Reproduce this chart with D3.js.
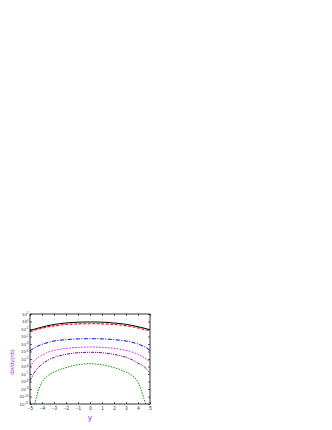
<!DOCTYPE html>
<html><head><meta charset="utf-8">
<script src="https://cdn.jsdelivr.net/npm/d3@7"></script>
<style>body{margin:0;background:#fff}svg{display:block}</style>
</head><body>
<script>
const rapidity = [-5,-4.5,-4,-3.5,-3,-2.5,-2,-1.5,-1,-0.5,0,0.5,1,1.5,2,2.5,3,3.5,4,4.5,5];
const blackSolid = [0.063,0.11,0.18,0.28,0.40,0.52,0.63,0.74,0.81,0.85,0.87,0.85,0.81,0.74,0.63,0.53,0.42,0.30,0.20,0.13,0.08];
const redDashed  = [0.045,0.079,0.126,0.20,0.26,0.33,0.40,0.45,0.48,0.50,0.50,0.50,0.48,0.45,0.40,0.34,0.27,0.21,0.14,0.09,0.056];
const blueDashDot = [1.26e-4,4.0e-4,8.9e-4,1.6e-3,2.5e-3,3.2e-3,3.8e-3,4.4e-3,4.8e-3,5.0e-3,5.0e-3,5.0e-3,4.8e-3,4.4e-3,3.8e-3,3.2e-3,2.5e-3,1.7e-3,1.0e-3,4.5e-4,1.5e-4];
const magentaDot = [1.0e-6,1.0e-5,3.2e-5,7.9e-5,1.4e-4,2.0e-4,2.6e-4,3.2e-4,3.5e-4,3.8e-4,4.0e-4,3.8e-4,3.5e-4,3.2e-4,2.6e-4,2.0e-4,1.4e-4,8.5e-5,4.0e-5,1.6e-5,4.0e-6];
const purpleDashDotDot = [1.26e-8,3.2e-7,2.0e-6,7.1e-6,1.6e-5,2.8e-5,4.2e-5,5.6e-5,6.8e-5,7.6e-5,7.9e-5,7.6e-5,6.8e-5,5.6e-5,4.2e-5,2.8e-5,1.7e-5,8.0e-6,2.8e-6,1.0e-6,1.26e-7];
const greenY = [-4.6,-4.5,-4,-3.5,-3,-2.5,-2,-1.5,-1,-0.5,0,0.5,1,1.5,2,2.5,3,3.5,4,4.5,4.65];
const greenDotted = [1e-11,5e-11,7.9e-9,6.3e-8,1.8e-7,4.0e-7,7.1e-7,1.2e-6,1.7e-6,2.1e-6,2.4e-6,2.1e-6,1.7e-6,1.2e-6,7.1e-7,4.0e-7,1.8e-7,6.3e-8,7.9e-9,5e-11,1e-11];
const xTicks = [-5,-4,-3,-2,-1,0,1,2,3,4,5];
const yTickExps = [1,0,-1,-2,-3,-4,-5,-6,-7,-8,-9,-10,-11];

const FONT="Liberation Sans, Arial, sans-serif";
const W=332,H=430;
const svg=d3.select("body").append("svg").attr("width",W).attr("height",H);
const L=30,R=150,T=314,B=404;
const x=d3.scaleLinear().domain([-5,5]).range([L,R]);
const y=d3.scaleLog().domain([1e-11,10]).range([B,T]);

const g=svg.append("g");
svg.append("clipPath").attr("id","c").append("rect").attr("x",L).attr("y",T).attr("width",R-L).attr("height",B-T);

const series=[
 {xs:rapidity,v:blackSolid,c:"#000000",d:null,w:1},
 {xs:rapidity,v:redDashed,c:"#ff0000",d:"3,1.5",w:1.1},
 {xs:rapidity,v:blueDashDot,c:"#0000ff",d:"4,1.5,1,1.5",w:1},
 {xs:rapidity,v:magentaDot,c:"#ff00ff",d:"1.5,1.5",w:1},
 {xs:rapidity,v:purpleDashDotDot,c:"#800080",d:"3,1,1,1,1,1",w:1},
 {xs:greenY,v:greenDotted,c:"#009900",d:"1.5,1.2",w:1}
];
const line=d3.line().x(d=>x(d[0])).y(d=>y(d[1])).curve(d3.curveMonotoneX);
const cg=g.append("g").attr("clip-path","url(#c)");
series.forEach(s=>{
  cg.append("path").attr("d",line(s.xs.map((xx,i)=>[xx,s.v[i]])))
   .attr("fill","none").attr("stroke",s.c).attr("stroke-width",s.w)
   .attr("stroke-dasharray",s.d);
});

g.append("rect").attr("x",L).attr("y",T).attr("width",R-L).attr("height",B-T)
 .attr("fill","none").attr("stroke","#000").attr("stroke-width",0.8);

const xa=d3.axisBottom(x).tickValues(xTicks).tickSize(-2).tickPadding(3).tickFormat(d3.format("d"));
const xg=g.append("g").attr("transform",`translate(0,${B})`).call(xa);
xg.select(".domain").remove();
xg.selectAll("text").attr("font-size",4.5).attr("font-family",FONT).attr("fill","#333");
xg.selectAll("line").attr("stroke-width",0.6);
const xt=d3.axisTop(x).tickValues(xTicks).tickSize(-2).tickFormat("");
const xtg=g.append("g").attr("transform",`translate(0,${T})`).call(xt);
xtg.select(".domain").remove(); xtg.selectAll("line").attr("stroke-width",0.6);

const yVals=yTickExps.map(e=>Math.pow(10,e));
const ya=d3.axisLeft(y).tickValues(yVals).tickSize(-2).tickFormat("");
const yg=g.append("g").attr("transform",`translate(${L},0)`).call(ya);
yg.select(".domain").remove(); yg.selectAll("line").attr("stroke-width",0.6);
const yr=d3.axisRight(y).tickValues(yVals).tickSize(-2).tickFormat("");
const yrg=g.append("g").attr("transform",`translate(${R},0)`).call(yr);
yrg.select(".domain").remove(); yrg.selectAll("line").attr("stroke-width",0.6);
yTickExps.forEach(e=>{
  const t=g.append("text").attr("x",L-1.5).attr("y",y(Math.pow(10,e))+1.6)
   .attr("text-anchor","end").attr("font-size",4.3).attr("fill","#333")
   .attr("font-family",FONT);
  t.append("tspan").text("10");
  t.append("tspan").attr("dy",-1.6).attr("font-size",3).text(e);
});

g.append("text").attr("x",(L+R)/2).attr("y",420).attr("text-anchor","middle")
 .attr("font-size",8).attr("fill","#9933ff").attr("font-family",FONT).text("y");
g.append("text").attr("transform",`translate(14,362) rotate(-90)`).attr("text-anchor","middle")
 .attr("font-size",6).attr("fill","#9933ff").attr("font-family",FONT).text("dσ/dy(nb)");
</script>
</body></html>
